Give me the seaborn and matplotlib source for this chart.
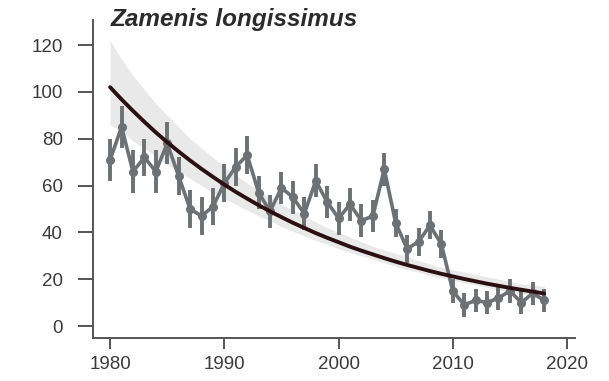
import numpy as np
import pandas as pd
import matplotlib
matplotlib.use("Agg")
import matplotlib.pyplot as plt
import seaborn as sns

# ---- data ----
years = list(range(1980, 2019))
counts = [71, 85, 66, 72, 66, 78, 64, 50, 47, 51,
          61, 68, 73, 57, 49, 59, 55, 48, 62, 53,
          46, 52, 45, 47, 67, 44, 33, 36, 43, 35,
          15, 9, 11, 10, 12, 15, 10, 14, 11]
errors = [9, 9, 9, 8, 9, 9, 8, 8, 8, 8,
          8, 8, 8, 7, 7, 7, 7, 7, 7, 7,
          7, 7, 7, 7, 7, 6, 6, 6, 6, 6,
          5, 5, 5, 5, 5, 5, 5, 5, 5]
trend = [102.0, 96.8, 91.9, 87.2, 82.7, 78.5, 74.5, 70.7, 67.1, 63.7,
         60.4, 57.3, 54.4, 51.6, 49.0, 46.5, 44.1, 41.9, 39.7, 37.7,
         35.8, 33.9, 32.2, 30.6, 29.0, 27.5, 26.1, 24.8, 23.5, 22.3,
         21.2, 20.1, 19.1, 18.1, 17.2, 16.3, 15.5, 14.7, 13.9]
upper = [122, 114, 107, 101, 95, 90, 85, 80, 76, 72,
         68, 64.5, 61, 58, 55, 52, 49.5, 47, 44.5, 42,
         40, 38, 36, 34, 32.5, 31, 29.5, 28, 26.5, 25,
         24, 23, 22, 21, 20, 19, 18, 17.5, 17]
lower = [86, 83, 79, 76, 72.5, 69, 66, 63, 60, 57,
         54.5, 52, 49.5, 47, 45, 42.5, 40.5, 38.5, 36.5, 35,
         33, 31.5, 30, 28.5, 27, 25.5, 24, 23, 21.5, 20.5,
         19.5, 18.5, 17.5, 16.5, 15.5, 14.5, 14, 13, 12]
x_ticks = [1980, 1990, 2000, 2010, 2020]
y_ticks = [0, 20, 40, 60, 80, 100, 120]
title = "Zamenis longissimus"

df = pd.DataFrame({"year": years, "count": counts, "err": errors,
                   "trend": trend, "upper": upper, "lower": lower})

sns.set_style("white")
plt.rcParams["font.family"] = ["Liberation Sans", "DejaVu Sans"]

fig = plt.figure(figsize=(6.09, 3.81), dpi=100)
ax = fig.add_axes([0.1527, 0.1129, 0.7915, 0.8346])

px = 72 / 100  # points per pixel
point_col = "#6d7174"
ax.fill_between(df["year"], df["lower"], df["upper"], color="#e9e9e9",
                linewidth=0, zorder=1)
ax.errorbar(df["year"], df["count"], yerr=df["err"], fmt="none",
            ecolor=point_col, elinewidth=2.8, capsize=0, zorder=2)
sns.lineplot(data=df, x="year", y="count", ax=ax, color=point_col,
             linewidth=2.6, marker="o", markersize=6.5,
             markeredgewidth=0, zorder=3)
sns.lineplot(data=df, x="year", y="trend", ax=ax, color="#2a1012",
             linewidth=2.8, zorder=4)

ax.set_xlim(1978.5, 2020.7)
ax.set_ylim(-5.1, 130.7)
ax.set_xticks(x_ticks)
ax.set_yticks(y_ticks)
ax.set_xlabel("")
ax.set_ylabel("")

for side in ["top", "right"]:
    ax.spines[side].set_visible(False)
for side in ["left", "bottom"]:
    ax.spines[side].set_color("#555555")
    ax.spines[side].set_linewidth(1.4)

ax.tick_params(axis="y", direction="out", length=15 * px, width=1.4,
               color="#555555", labelsize=13.5, labelcolor="#3a3a3a",
               pad=15 * px, left=True)
ax.tick_params(axis="x", direction="out", length=11 * px, width=1.4,
               color="#555555", labelsize=13.5, labelcolor="#3a3a3a",
               pad=7 * px, bottom=True)

fig.text(0.181, 0.932, title, fontsize=17.5, fontweight="bold",
         fontstyle="italic", color="#2b2b2b", ha="left", va="baseline")

fig.savefig("out.png", dpi=100)
